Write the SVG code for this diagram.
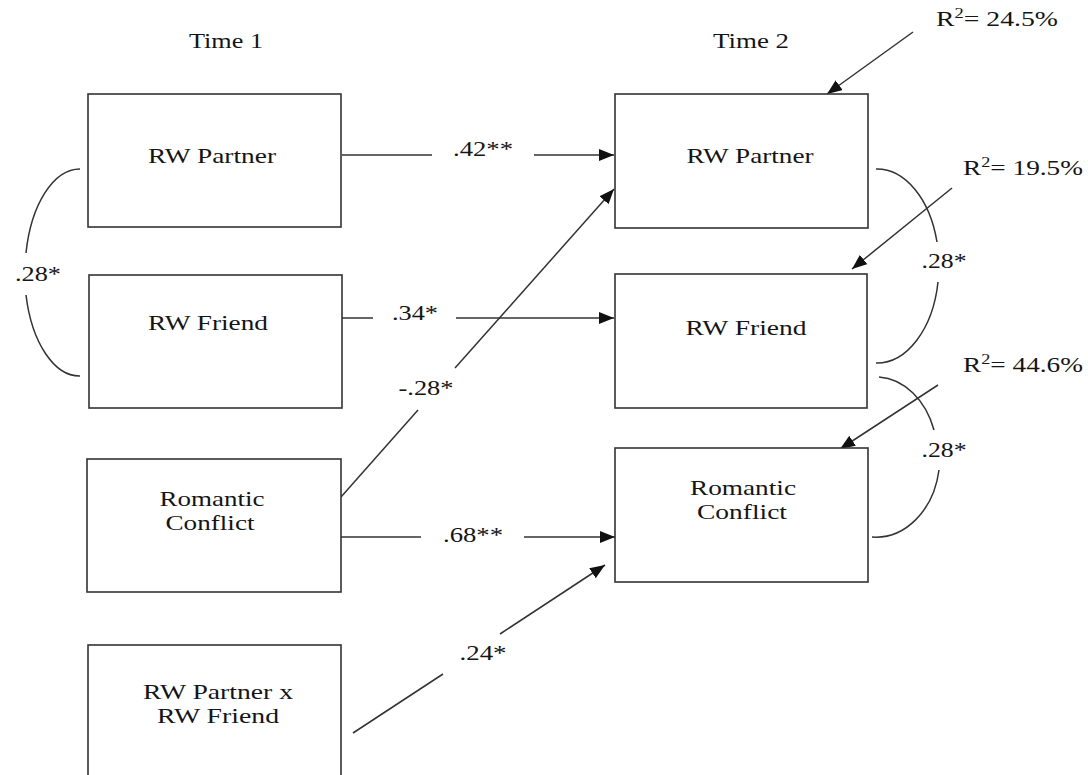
<svg xmlns="http://www.w3.org/2000/svg" width="1088" height="775" viewBox="0 0 1088 775">
<defs>
<style>
.box{fill:#fff;stroke:#333;stroke-width:1.6}
.ln{fill:none;stroke:#333;stroke-width:1.5}
.arr{fill:none;stroke:#333;stroke-width:1.5;marker-end:url(#ah)}
.t{font-family:"Liberation Serif","Times New Roman",serif;font-size:22px;fill:#151515;text-anchor:middle}
.lb{font-family:"Liberation Serif","Times New Roman",serif;font-size:21px;fill:#151515;text-anchor:middle}
.r2{font-family:"Liberation Serif","Times New Roman",serif;font-size:21px;fill:#151515}
</style>
<marker id="ah" markerUnits="userSpaceOnUse" markerWidth="16" markerHeight="12" refX="15" refY="6" orient="auto">
<path d="M0,0 L15,6 L0,12 Z" fill="#111"/>
</marker>
</defs>
<rect width="1088" height="775" fill="#fff"/>

<text class="t" x="226" y="48" textLength="74" lengthAdjust="spacingAndGlyphs">Time 1</text>
<text class="t" x="751" y="48" textLength="76" lengthAdjust="spacingAndGlyphs">Time 2</text>

<g id="connectors">
<line class="ln" x1="342" y1="155" x2="432" y2="155"/>
<line class="arr" x1="534" y1="155" x2="614" y2="155"/>
<line class="ln" x1="342" y1="318" x2="373" y2="318"/>
<line class="arr" x1="456" y1="318" x2="614" y2="318"/>
<line class="ln" x1="341" y1="537" x2="421" y2="537"/>
<line class="arr" x1="524" y1="537" x2="615" y2="537"/>
<line class="ln" x1="341" y1="497" x2="418" y2="410"/>
<line class="arr" x1="455" y1="368" x2="614" y2="189"/>
<line class="ln" x1="353" y1="733" x2="443" y2="674"/>
<line class="arr" x1="500" y1="634" x2="605" y2="565"/>
<line class="arr" x1="913" y1="32" x2="827" y2="94"/>
<line class="arr" x1="952" y1="188" x2="852" y2="269"/>
<line class="arr" x1="938" y1="385" x2="840" y2="449"/>
<path class="ln" d="M80,169 A55,104 0 0 0 26,253"/>
<path class="ln" d="M26,295 A55,104 0 0 0 80,376"/>
<path class="ln" d="M876,169 A62,97 0 0 1 937,242"/>
<path class="ln" d="M938,282 A62,97 0 0 1 876,363"/>
<path class="ln" d="M879,377 A62,80 0 0 1 934,430"/>
<path class="ln" d="M939,470 A64,80 0 0 1 872,537"/>
<text class="lb" x="483" y="156" textLength="60" lengthAdjust="spacingAndGlyphs">.42**</text>
<text class="lb" x="415" y="320" textLength="46" lengthAdjust="spacingAndGlyphs">.34*</text>
<text class="lb" x="426" y="395" textLength="55" lengthAdjust="spacingAndGlyphs">-.28*</text>
<text class="lb" x="473" y="542" textLength="60" lengthAdjust="spacingAndGlyphs">.68**</text>
<text class="lb" x="483" y="660" textLength="47" lengthAdjust="spacingAndGlyphs">.24*</text>
<text class="lb" x="38" y="281" textLength="46" lengthAdjust="spacingAndGlyphs">.28*</text>
<text class="lb" x="944" y="268" textLength="45" lengthAdjust="spacingAndGlyphs">.28*</text>
<text class="lb" x="944" y="457" textLength="45" lengthAdjust="spacingAndGlyphs">.28*</text>
<text class="r2" x="936" y="26" textLength="122" lengthAdjust="spacingAndGlyphs">R<tspan font-size="14" dy="-8">2</tspan><tspan dy="8">= 24.5%</tspan></text>
<text class="r2" x="963" y="175" textLength="120" lengthAdjust="spacingAndGlyphs">R<tspan font-size="14" dy="-8">2</tspan><tspan dy="8">= 19.5%</tspan></text>
<text class="r2" x="963" y="372" textLength="120" lengthAdjust="spacingAndGlyphs">R<tspan font-size="14" dy="-8">2</tspan><tspan dy="8">= 44.6%</tspan></text>
</g>

<g id="t1-partner">
<rect class="box" x="88" y="94" width="253" height="133"/>
<text class="t" x="212" y="163" textLength="128" lengthAdjust="spacingAndGlyphs">RW Partner</text>
</g>
<g id="t1-friend">
<rect class="box" x="89" y="275" width="253" height="133"/>
<text class="t" x="208" y="330" textLength="120" lengthAdjust="spacingAndGlyphs">RW Friend</text>
</g>
<g id="t1-conflict">
<rect class="box" x="87" y="459" width="254" height="133"/>
<text class="t" x="212" y="506" textLength="105" lengthAdjust="spacingAndGlyphs">Romantic</text>
<text class="t" x="210" y="530" textLength="89" lengthAdjust="spacingAndGlyphs">Conflict</text>
</g>
<g id="t1-interaction">
<rect class="box" x="88" y="645" width="253" height="150"/>
<text class="t" x="218" y="699" textLength="150" lengthAdjust="spacingAndGlyphs">RW Partner x</text>
<text class="t" x="218" y="723" textLength="122" lengthAdjust="spacingAndGlyphs">RW Friend</text>
</g>
<g id="t2-partner">
<rect class="box" x="615" y="94" width="253" height="134"/>
<text class="t" x="750" y="163" textLength="127" lengthAdjust="spacingAndGlyphs">RW Partner</text>
</g>
<g id="t2-friend">
<rect class="box" x="615" y="274" width="252" height="134"/>
<text class="t" x="746" y="335" textLength="121" lengthAdjust="spacingAndGlyphs">RW Friend</text>
</g>
<g id="t2-conflict">
<rect class="box" x="615" y="448" width="253" height="134"/>
<text class="t" x="743" y="495" textLength="106" lengthAdjust="spacingAndGlyphs">Romantic</text>
<text class="t" x="742" y="519" textLength="90" lengthAdjust="spacingAndGlyphs">Conflict</text>
</g>
</svg>
